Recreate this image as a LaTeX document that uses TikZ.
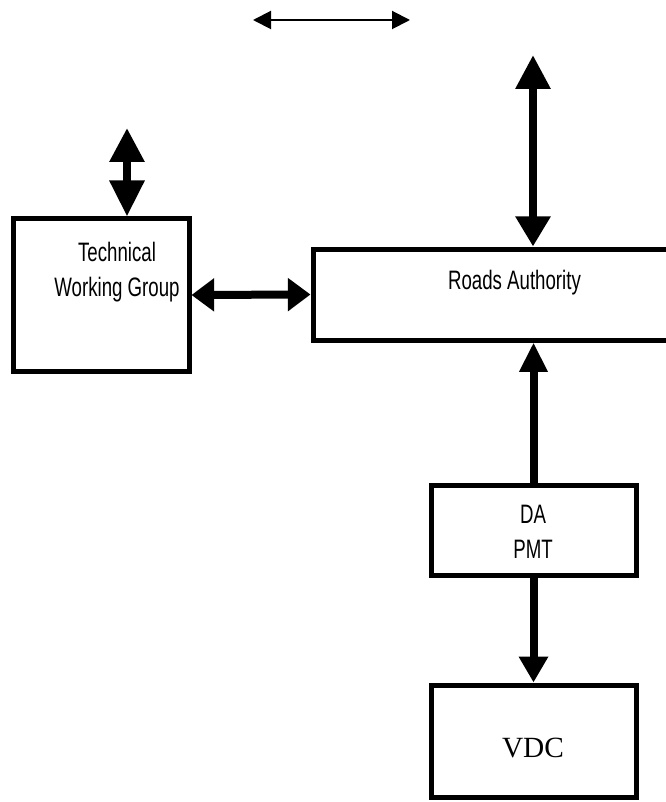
\documentclass[tikz,border=0pt]{standalone}
\usepackage{fontspec}
\setmainfont{Liberation Sans}[FakeStretch=0.7]
\newfontfamily\vdcfont{Liberation Serif}
\usetikzlibrary{arrows.meta}
\tikzset{>={Triangle[length=25pt,width=25pt]}}
\tikzset{
  box/.style={draw, line width=3.75pt, inner sep=0pt},
  shaft/.style={line width=6pt},
  txt/.style={align=center, font=\fontsize{20}{26}\selectfont}
}

\begin{document}
\begin{tikzpicture}[x=0.75pt, y=-0.75pt]
    \useasboundingbox(0, 0)rectangle(665, 802);
    \node[box, minimum width=132pt, minimum height=114pt](twg)at(101, 295){};
    \node[box, minimum width=300pt, minimum height=68.25pt](ra)at(513, 294.5){};
    \node[box, minimum width=153.75pt, minimum height=67.5pt](da)at(533.5, 530){};
    \node[box, minimum width=153.75pt, minimum height=84pt](vdc)at(533.5, 741){};
    \node[txt](twg text)at(117, 272){Technical\\Working Group};
    \node[txt](ra text)at(514.5, 283){Roads Authority};
    \node[txt](da text)at(533, 532){DA\\PMT};
    \node[font=\vdcfont\fontsize{22}{26}\selectfont](vdc text)at(533, 748){VDC};
    \coordinate(top l)at(253, 20);
    \coordinate(top r)at(410, 20);
    \coordinate(twg up)at(127, 128);
    \coordinate(ra up)at(533, 55);
    \draw[line width=1.5pt, {Triangle[length=13.5pt, width=13.5pt]}-{Triangle[length=13.5pt, width=13.5pt]}](top l)--(top r);
    \draw[shaft, {Triangle[length=25.5pt, width=25pt]}-{Triangle[length=27pt, width=25pt]}](twg up)--(twg up |- twg.north);
    \draw[shaft, {Triangle[length=17pt, width=24pt]}-{Triangle[length=17pt, width=24pt]}](twg.east)--(ra.west);
    \draw[shaft, {Triangle[length=25.5pt, width=25pt]}-{Triangle[length=22.5pt, width=25pt]}](ra up)--(ra up |- ra.north);
    \draw[shaft, -{Triangle[length=22pt, width=20pt]}](da.north)--(da.north |- ra.south);
    \draw[shaft, -{Triangle[length=19.5pt, width=21pt]}](da)--(vdc);
\end{tikzpicture}
\end{document}
